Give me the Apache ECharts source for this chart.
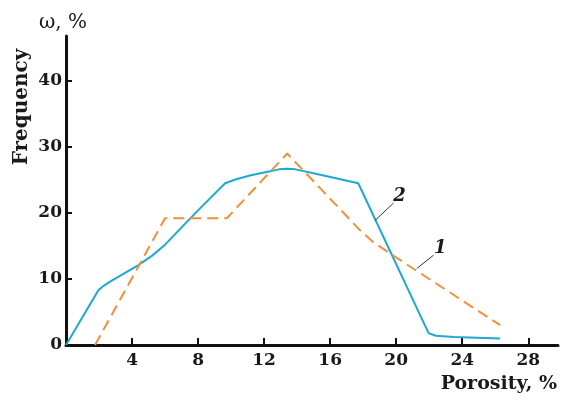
<!DOCTYPE html>
<html>
<head>
<meta charset="utf-8">
<script src="https://cdn.jsdelivr.net/npm/echarts@6/dist/echarts.min.js"></script>
<style>
html,body{margin:0;padding:0;background:#fff;}
#c{width:562px;height:402px;}
</style>
</head>
<body>
<div id="c"></div>
<script>
// Curve 1 (orange, dashed)
const curve1X = [1.76, 6.0, 9.74, 13.4, 17.8, 18.6, 19.6, 26.3];
const curve1Y = [0, 19.2, 19.2, 29.0, 17.4, 15.6, 13.9, 3.0];
// Curve 2 (blue, solid)
const curve2X = [0, 1.96, 2.3, 2.67, 3.5, 4.38, 5.2, 6.0, 7.92, 9.64, 10.3, 11.2, 12.36, 12.9, 13.4, 13.9, 15.4, 17.7, 21.96, 22.4, 23.5, 26.3];
const curve2Y = [0, 8.3, 9.0, 9.6, 10.8, 12.1, 13.5, 15.2, 20.2, 24.5, 25.1, 25.7, 26.3, 26.6, 26.7, 26.6, 25.8, 24.5, 1.8, 1.4, 1.2, 1.0];
// Annotation labels (data coords)
const labelNames = ['1', '2'];
const labelPos = [[22.67, 14.7], [20.2, 22.5]];
const leaderFrom = [[21.25, 11.6], [18.73, 18.9]];
const leaderTo = [[22.26, 13.6], [19.84, 21.5]];
const xTicks = [4, 8, 12, 16, 20, 24, 28];
const yTicks = [0, 10, 20, 30, 40];

const zip = (xs, ys) => xs.map((x, i) => [x, ys[i]]);
const FONT = 'DejaVu Serif';

const chart = echarts.init(document.getElementById('c'), null, {renderer: 'canvas'});
chart.setOption({
  animation: false,
  backgroundColor: '#fff',
  grid: {left: 66, right: 4, top: 36, bottom: 57},
  xAxis: {
    type: 'value', min: 0, max: 29.8, interval: 4,
    axisLine: {lineStyle: {color: '#111', width: 3}},
    axisTick: {inside: true, length: 7, lineStyle: {color: '#111', width: 2}},
    axisLabel: {
      margin: 7, color: '#1a1a1a', fontFamily: FONT, fontWeight: 'bold', fontSize: 17,
      showMaxLabel: false,
      formatter: v => (xTicks.indexOf(v) >= 0 ? String(v) : '')
    },
    splitLine: {show: false}
  },
  yAxis: {
    type: 'value', min: 0, max: 46.8, interval: 10,
    name: 'ω, %', nameLocation: 'end', nameGap: 3,
    nameTextStyle: {fontFamily: FONT, fontSize: 20, color: '#1a1a1a', align: 'center', padding: [0, 6, 0, 0]},
    axisLine: {show: true, lineStyle: {color: '#111', width: 3}},
    axisTick: {show: true, inside: true, length: 6, lineStyle: {color: '#111', width: 2}},
    axisLabel: {
      margin: 4, color: '#1a1a1a', fontFamily: FONT, fontWeight: 'bold', fontSize: 17,
      showMaxLabel: false,
      formatter: v => (yTicks.indexOf(v) >= 0 ? String(v) : '')
    },
    splitLine: {show: false}
  },
  graphic: [
    {type: 'text', x: 22, y: 107, rotation: Math.PI / 2,
     style: {text: 'Frequency', font: 'bold 20px "DejaVu Serif"', fill: '#1a1a1a',
             textAlign: 'center', textVerticalAlign: 'middle', align: 'center', verticalAlign: 'middle'}},
    {type: 'text', x: 557, y: 384,
     style: {text: 'Porosity, %', font: 'bold 19px "DejaVu Serif"', fill: '#1a1a1a',
             textAlign: 'right', textVerticalAlign: 'middle', align: 'right', verticalAlign: 'middle'}}
  ],
  series: [
    {
      type: 'line', name: '1', data: zip(curve1X, curve1Y), showSymbol: false,
      lineStyle: {color: '#F0903A', width: 2, type: [11, 6]},
      z: 3,
      markLine: {
        silent: true, symbol: 'none', label: {show: false},
        lineStyle: {color: '#333', width: 1, type: 'solid'},
        data: leaderFrom.map((p, i) => [{coord: p}, {coord: leaderTo[i]}])
      },
      markPoint: {
        symbol: 'circle', symbolSize: 1, itemStyle: {color: 'rgba(0,0,0,0)'},
        label: {show: true, position: 'inside', color: '#1a1a1a',
                fontFamily: FONT, fontWeight: 'bold', fontStyle: 'italic', fontSize: 18,
                formatter: p => p.name},
        data: labelNames.map((n, i) => ({name: n, coord: labelPos[i]}))
      }
    },
    {
      type: 'line', name: '2', data: zip(curve2X, curve2Y), showSymbol: false,
      lineStyle: {color: '#1FA8D0', width: 2},
      z: 2
    }
  ]
});
</script>
</body>
</html>
